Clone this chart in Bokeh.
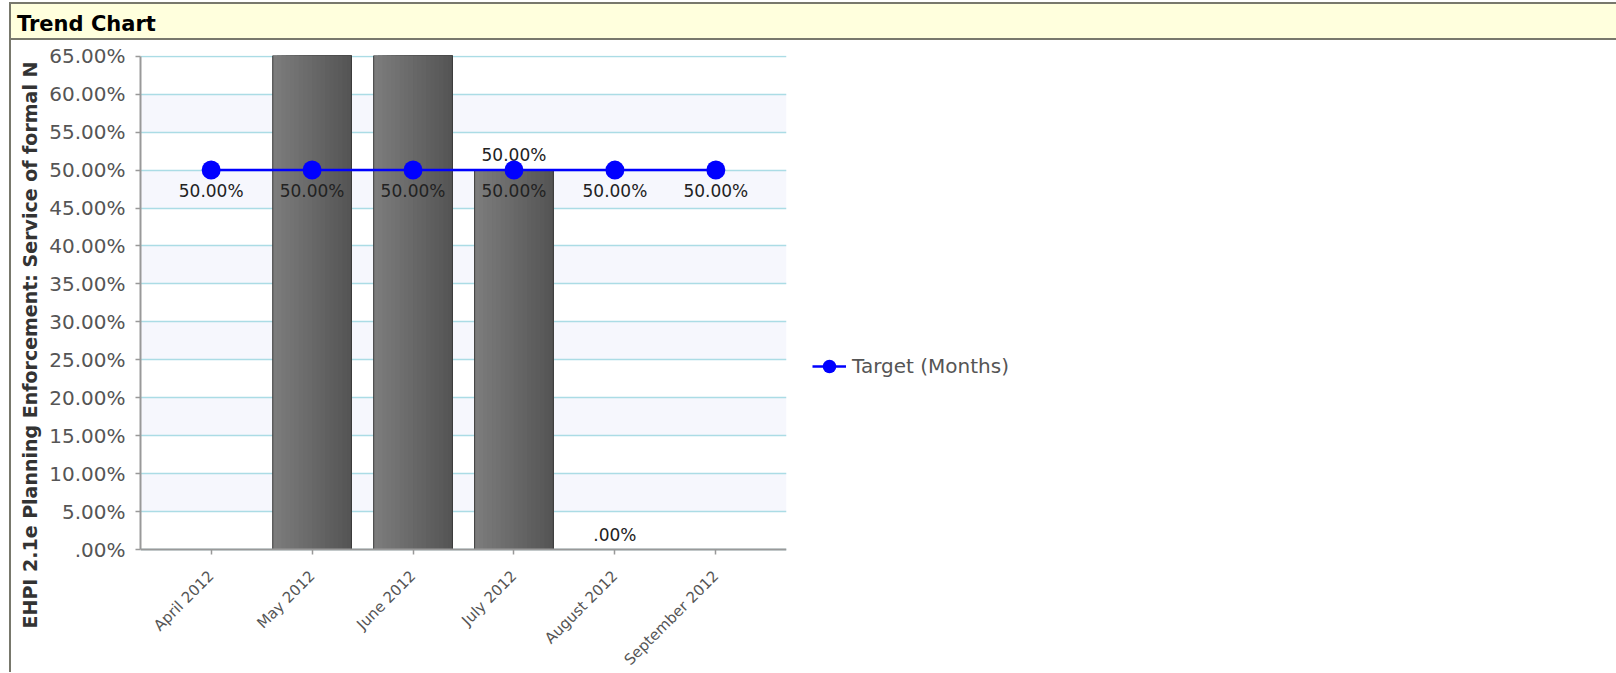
import math
from bokeh.plotting import figure
from bokeh.models import (ColumnDataSource, FactorRange, Range1d, FixedTicker, BoxAnnotation,
                          CustomJSTickFormatter, Legend, LegendItem, Title, Div)
from bokeh.layouts import column, row
from bokeh.transform import dodge
from bokeh.core.properties import value
from bokeh.embed import file_html
from bokeh.resources import INLINE

# ---------------- data ----------------
months = ["April 2012", "May 2012", "June 2012", "July 2012", "August 2012", "September 2012"]
actual = [None, 100.0, 100.0, 50.0, 0.0, None]   # May / June run off the top of the 65% axis
target = [50.0, 50.0, 50.0, 50.0, 50.0, 50.0]
y_ticks = [0, 5, 10, 15, 20, 25, 30, 35, 40, 45, 50, 55, 60, 65]
chart_title = "Trend Chart"
y_title = "EHPI 2.1e Planning Enforcement: Service of formal N"
legend_label = "Target (Months)"
Y_MAX = 65


def pct(v):
    s = f"{v:.2f}"
    if s.startswith("0"):
        s = s[1:]
    return s + "%"


FONT = "DejaVu Sans"
BORDER = "#78786C"

bar_x = [m for m, v in zip(months, actual) if v is not None]
bar_top = [v for v in actual if v is not None]
bsrc = ColumnDataSource(dict(month=bar_x, top=bar_top))
lab_x = [m for m, v in zip(bar_x, bar_top) if v <= Y_MAX]
lab_y = [v for v in bar_top if v <= Y_MAX]
blsrc = ColumnDataSource(dict(month=lab_x, y=lab_y, label=[pct(v) for v in lab_y]))
tsrc = ColumnDataSource(dict(month=months, target=target, label=[pct(v) for v in target]))

# ---------------- layout geometry (pixels) ----------------
FIG_W, FIG_H = 1605, 632          # figure sits at page x=11, y=40
BORDER_TOP = 15                   # frame top (page y 55)
FRAME_H = FIG_H - BORDER_TOP      # frame runs to the bottom of the figure
ZERO_FROM_TOP = 494               # value 0 lies 494 px below the frame top (page y 549)
Y_END = Y_MAX + 0.1
px_per_unit = ZERO_FROM_TOP / Y_END
Y_START = -(FRAME_H - ZERO_FROM_TOP) / px_per_unit

p = figure(x_range=FactorRange(factors=months, range_padding=0.2, range_padding_units="absolute"),
           y_range=Range1d(Y_START, Y_END),
           width=FIG_W, height=FIG_H, output_backend="svg", toolbar_location=None,
           min_border_left=129, min_border_right=830, min_border_top=BORDER_TOP, min_border_bottom=0,
           background_fill_color="white", border_fill_color="white", outline_line_color=None)

# grid lines + alternate bands (every other interval between ticks)
p.xgrid.visible = False
p.yaxis.ticker = FixedTicker(ticks=y_ticks)
p.ygrid.ticker = FixedTicker(ticks=y_ticks)
p.ygrid.grid_line_color = "#ABDCE5"
p.ygrid.grid_line_width = 1.5
p.ygrid.band_fill_color = None
for lo, hi in zip(y_ticks[1::2], y_ticks[2::2]):
    p.add_layout(BoxAnnotation(bottom=lo, top=hi, fill_color="#F6F7FD", fill_alpha=1.0,
                               line_color=None, level="image"))

# bars with a horizontal gradient: overlapping slices, each reaching the right edge
BAR_W = 0.78
N = 18
c0, c1 = 0x7C, 0x55
step = BAR_W / N
for i in range(N):
    t = i / (N - 1)
    c = round(c0 + (c1 - c0) * t)
    col = f"#{c:02x}{c:02x}{c:02x}"
    w = BAR_W - i * step
    off = i * step / 2
    p.vbar(x=dodge("month", off, range=p.x_range), top="top", bottom=0, width=w,
           source=bsrc, fill_color=col, line_color=None)
p.vbar(x="month", top="top", bottom=0, width=BAR_W, source=bsrc,
       fill_color=None, line_color="#3a3a3a", line_width=1)

p.text(x="month", y="y", text="label", source=blsrc, y_offset=-15,
       text_align="center", text_baseline="middle", text_font=value(FONT),
       text_font_size="17px", text_color="#222222")

# target line
ln = p.line("month", "target", source=tsrc, line_color="#0000FF", line_width=2.5)
sc = p.scatter("month", "target", source=tsrc, size=19, fill_color="#0000FF", line_color=None)
p.text(x="month", y="target", text="label", source=tsrc, y_offset=21,
       text_align="center", text_baseline="middle", text_font=value(FONT),
       text_font_size="17px", text_color="#222222")

# axes
for ax in (p.xaxis[0], p.yaxis[0]):
    ax.axis_line_color = "#999999"
    ax.axis_line_width = 2
    ax.major_tick_line_color = "#999999"
    ax.major_tick_line_width = 1.5
    ax.major_tick_in = 0
    ax.minor_tick_line_color = None
    ax.major_label_text_color = "#555555"
    ax.major_label_text_font = FONT

p.yaxis.bounds = (0, Y_MAX)
p.yaxis.major_tick_out = 5
p.yaxis.major_label_standoff = 10
p.yaxis.major_label_text_font_size = "20px"
p.yaxis.formatter = CustomJSTickFormatter(code="""
    let s = tick.toFixed(2);
    if (s.startsWith("0")) { s = s.slice(1); }
    return s + "%";
""")

p.xaxis.fixed_location = 0
p.xaxis.major_tick_out = 5
p.xaxis.major_label_standoff = 19
p.xaxis.major_label_orientation = math.pi / 4
p.xaxis.major_label_text_font_size = "15px"

# y-axis title (truncated as in the original), starting below the zero line
p.add_layout(Title(text=y_title, align="left", offset=44, standoff=11,
                   text_font=FONT, text_font_size="19px", text_font_style="bold",
                   text_color="#333333"), "left")

# legend
legend = Legend(items=[LegendItem(label=legend_label, renderers=[ln, sc])],
                location=(26, 289), orientation="vertical",
                glyph_width=34, glyph_height=34, label_height=34, label_standoff=6,
                label_text_font_size="20px", label_text_color="#555555", label_text_font=FONT,
                padding=0, margin=0, spacing=0, border_line_color=None, background_fill_alpha=0)
p.add_layout(legend, "right")

top_strip = Div(text=(
    '<div style="position:relative;width:1616px;height:2px;overflow:hidden;">'
    f'<div style="position:absolute;left:9px;top:0;width:2px;height:2px;background:{BORDER};"></div>'
    f'<div style="position:absolute;left:107px;top:0;width:3px;height:2px;background:{BORDER};"></div>'
    '</div>'), width=1616, height=2, margin=0)

title_div = Div(text=(
    '<div style="margin-left:9px;width:1607px;height:38px;box-sizing:border-box;background:#FFFFDD;'
    f'border-top:2px solid {BORDER};border-bottom:2px solid {BORDER};border-left:2px solid {BORDER};'
    f"font-family:'{FONT}';font-weight:bold;font-size:21px;color:#000000;"
    'padding-left:6px;padding-top:6px;line-height:28px;white-space:nowrap;overflow:hidden;">'
    + chart_title + '</div>'),
    width=1616, height=38, margin=0)

left_border = Div(text=(
    f'<div style="width:11px;height:{FIG_H}px;box-sizing:border-box;'
    f'border-right:2px solid {BORDER};"></div>'), width=11, height=FIG_H, margin=0)

layout = column(top_strip, title_div, row(left_border, p, spacing=0), spacing=0)

open("out.html", "w").write(file_html(layout, INLINE))
